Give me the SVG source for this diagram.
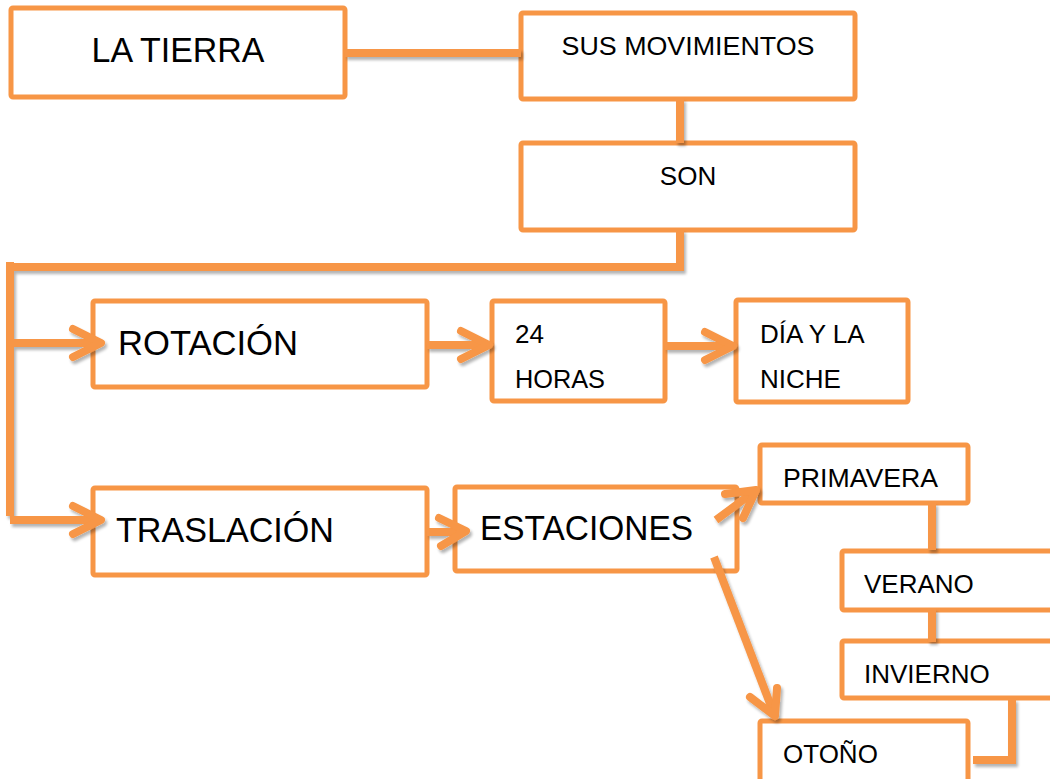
<svg xmlns="http://www.w3.org/2000/svg" width="1050" height="779" viewBox="0 0 1050 779">
<style>
.box{fill:#fff;stroke:#F79646;stroke-width:5;stroke-linejoin:round}
.c{fill:none;stroke:#F79646;stroke-width:8;stroke-linejoin:miter}
.h{fill:none;stroke:#F79646;stroke-width:8;stroke-linecap:round;stroke-linejoin:round}
.t{font-family:"Liberation Sans",Arial,sans-serif;fill:#000}
.big{font-size:35px}
.sm{font-size:26px}
</style>
<defs>
<filter id="sh" x="-10%" y="-10%" width="130%" height="130%">
<feGaussianBlur in="SourceAlpha" stdDeviation="1.5"/>
<feOffset dx="2" dy="3" result="b"/>
<feComponentTransfer><feFuncA type="linear" slope="0.3"/></feComponentTransfer>
<feMerge><feMergeNode/><feMergeNode in="SourceGraphic"/></feMerge>
</filter>
</defs>
<rect width="1050" height="779" fill="#fff"/>
<g id="n-tierra"><rect class="box" x="11" y="8" width="334" height="89" rx="2"/><text class="t big" x="178" y="62" text-anchor="middle" textLength="173" lengthAdjust="spacingAndGlyphs">LA TIERRA</text></g>
<g id="n-movimientos"><rect class="box" x="521" y="13" width="334" height="86" rx="2"/><text class="t sm" x="688" y="55" text-anchor="middle" textLength="253" lengthAdjust="spacingAndGlyphs">SUS MOVIMIENTOS</text></g>
<g id="n-son"><rect class="box" x="521" y="143" width="334" height="87" rx="2"/><text class="t sm" x="688" y="185" text-anchor="middle">SON</text></g>
<g id="n-rotacion"><rect class="box" x="93" y="301" width="334" height="86" rx="2"/><text class="t big" x="118" y="355" textLength="180" lengthAdjust="spacingAndGlyphs">ROTACIÓN</text></g>
<g id="n-24horas"><rect class="box" x="492" y="301" width="173" height="100" rx="2"/><text class="t sm" x="515" y="343">24</text><text class="t sm" x="515" y="388" textLength="90" lengthAdjust="spacingAndGlyphs">HORAS</text></g>
<g id="n-dia"><rect class="box" x="736" y="300" width="172" height="102" rx="2"/><text class="t sm" x="760" y="343">DÍA Y LA</text><text class="t sm" x="760" y="388">NICHE</text></g>
<g id="n-traslacion"><rect class="box" x="93" y="488" width="334" height="87" rx="2"/><text class="t big" x="116" y="542" textLength="218" lengthAdjust="spacingAndGlyphs">TRASLACIÓN</text></g>
<g id="n-estaciones"><rect class="box" x="455" y="487" width="282" height="84" rx="2"/><text class="t big" x="480" y="540" textLength="213" lengthAdjust="spacingAndGlyphs">ESTACIONES</text></g>
<g id="n-primavera"><rect class="box" x="760" y="445" width="208" height="58" rx="2"/><text class="t sm" x="783" y="487" textLength="155" lengthAdjust="spacingAndGlyphs">PRIMAVERA</text></g>
<g id="n-verano"><rect class="box" x="842" y="551" width="220" height="59" rx="2"/><text class="t sm" x="864" y="593">VERANO</text></g>
<g id="n-invierno"><rect class="box" x="842" y="641" width="220" height="57" rx="2"/><text class="t sm" x="864" y="683">INVIERNO</text></g>
<g id="n-otono"><rect class="box" x="760" y="721" width="208" height="70" rx="2"/><text class="t sm" x="783" y="763">OTOÑO</text></g>
<g id="connectors" filter="url(#sh)">
<line class="c" x1="345" y1="53" x2="521" y2="53"/>
<line class="c" x1="680" y1="99" x2="680" y2="143"/>
<polyline class="c" points="680,230 680,267 10,267"/>
<line class="c" x1="10" y1="262" x2="10" y2="516"/>
<line class="c" x1="10" y1="343" x2="100" y2="343"/>
<polyline class="h" points="73,329 101,343 73,357"/>
<line class="c" x1="10" y1="520" x2="100" y2="520"/>
<polyline class="h" points="73,506 101,520 73,534"/>
<line class="c" x1="427" y1="345" x2="487" y2="345"/>
<polyline class="h" points="461,331 489,345 461,359"/>
<line class="c" x1="665" y1="346" x2="732" y2="346"/>
<polyline class="h" points="705,332 733,346 705,360"/>
<line class="c" x1="427" y1="532" x2="463" y2="532"/>
<polyline class="h" points="439,518 466,531 441,546"/>
<line class="c" x1="716" y1="520" x2="755" y2="491"/>
<polyline class="h" points="725,494 756,490 743,518"/>
<line class="c" x1="714" y1="557" x2="774" y2="714"/>
<polyline class="h" points="750,697 775,716 777,688"/>
<line class="c" x1="932" y1="503" x2="932" y2="550"/>
<line class="c" x1="932" y1="609" x2="932" y2="642"/>
<polyline class="c" points="1012,699 1012,760 973,760"/>
</g>
</svg>
